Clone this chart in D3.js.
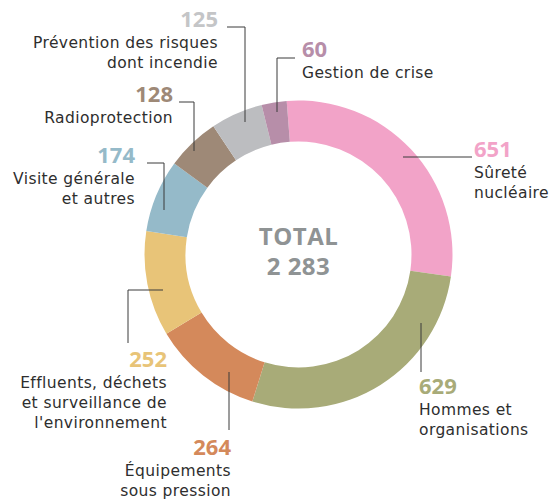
<!DOCTYPE html>
<html>
<head>
<meta charset="utf-8">
<script src="https://cdn.jsdelivr.net/npm/d3@7"></script>
<style>
  body { margin: 0; background: #fff; }
  text { font-family: "Open Sans", "Noto Sans", sans-serif; }
  .lbl { font-family: "DejaVu Sans", "Open Sans", sans-serif; letter-spacing: 0.4px; }
</style>
</head>
<body>
<div id="chart"></div>
<script>
// data
const categories = ['Sûreté nucléaire', 'Hommes et organisations', 'Équipements sous pression',
  "Effluents, déchets et surveillance de l'environnement", 'Visite générale et autres',
  'Radioprotection', 'Prévention des risques dont incendie', 'Gestion de crise'];
const values = [651, 629, 264, 252, 174, 128, 125, 60];
const colors = ['#f2a3c8', '#a8ab78', '#d4895b', '#e8c478', '#95bac9', '#9e8977', '#bcbdc0', '#b78ea9'];
const numColors = ['#f2a3c8', '#a8ab78', '#d4895b', '#e8c478', '#95bac9', '#9e8977', '#c4c5c7', '#b78ea9'];

// label layout: number position, text lines, anchor, leader points (last point is on the ring)
const labels = [
  { x: 474, y: 157, anchor: 'start', lines: ['Sûreté', 'nucléaire'], leader: [[472, 157], [403, 157]] },
  { x: 419, y: 394, anchor: 'start', lines: ['Hommes et', 'organisations'], leader: [[421, 372], [421, 323]] },
  { x: 231, y: 455, anchor: 'end', lines: ['Équipements', 'sous pression'], leader: [[229, 430], [229, 372]] },
  { x: 167, y: 367, anchor: 'end', lines: ['Effluents, déchets', 'et surveillance de', "l'environnement"], leader: [[128, 343], [128, 290], [163, 290]] },
  { x: 135, y: 163, anchor: 'end', lines: ['Visite générale', 'et autres'], leader: [[147, 163], [164, 163], [164, 210]] },
  { x: 173, y: 102, anchor: 'end', lines: ['Radioprotection'], leader: [[179, 102], [194, 102], [194, 151]] },
  { x: 218, y: 27, anchor: 'end', lines: ['Prévention des risques', 'dont incendie'], leader: [[227, 27], [245, 27], [245, 122]] },
  { x: 302, y: 57, anchor: 'start', lines: ['Gestion de crise'], leader: [[295, 58], [277, 58], [277, 112]] }
];

const width = 555;
const height = 500;
const cx = 298.5, cy = 254.5;
const outerR = 154, innerR = 113;

const svg = d3.select('#chart')
  .append('svg')
  .attr('width', width)
  .attr('height', height);

const g = svg.append('g').attr('transform', `translate(${cx},${cy})`);

const startA = -4.4 * Math.PI / 180;
const pie = d3.pie()
  .sort(null)
  .startAngle(startA)
  .endAngle(startA + 2 * Math.PI);

const arc = d3.arc().innerRadius(innerR).outerRadius(outerR);

g.selectAll('path')
  .data(pie(values))
  .enter()
  .append('path')
  .attr('d', arc)
  .attr('fill', (d, i) => colors[i]);

// centre text
g.append('text')
  .attr('text-anchor', 'middle')
  .attr('y', -10)
  .attr('font-size', 24)
  .attr('font-weight', 700)
  .attr('letter-spacing', 0.5)
  .attr('fill', '#8f9394')
  .text('TOTAL');
g.append('text')
  .attr('text-anchor', 'middle')
  .attr('y', 20)
  .attr('font-size', 24)
  .attr('font-weight', 700)
  .attr('letter-spacing', 0.5)
  .attr('fill', '#8f9394')
  .text(d3.format(',')(d3.sum(values)).replace(',', ' '));

// leader lines
svg.selectAll('.leader')
  .data(labels)
  .enter()
  .append('path')
  .attr('class', 'leader')
  .attr('d', (d) => d3.line()(d.leader))
  .attr('fill', 'none')
  .attr('stroke', '#3a3a3a')
  .attr('stroke-width', 1);

// labels
const lab = svg.selectAll('.lab')
  .data(labels)
  .enter()
  .append('g')
  .attr('class', 'lab');

lab.append('text')
  .attr('x', (d) => d.x)
  .attr('y', (d) => d.y)
  .attr('text-anchor', (d) => d.anchor)
  .attr('font-size', 22)
  .attr('font-weight', 700)
  .attr('fill', (d, i) => numColors[i])
  .text((d, i) => values[i]);

lab.each(function (d) {
  const t = d3.select(this).append('text')
    .attr('class', 'lbl')
    .attr('text-anchor', d.anchor)
    .attr('font-size', 15.5)
    .attr('fill', '#2e2e2e');
  d.lines.forEach((line, k) => {
    t.append('tspan')
      .attr('x', d.x)
      .attr('y', d.y + 21 + k * 20)
      .text(line);
  });
});
</script>
</body>
</html>
